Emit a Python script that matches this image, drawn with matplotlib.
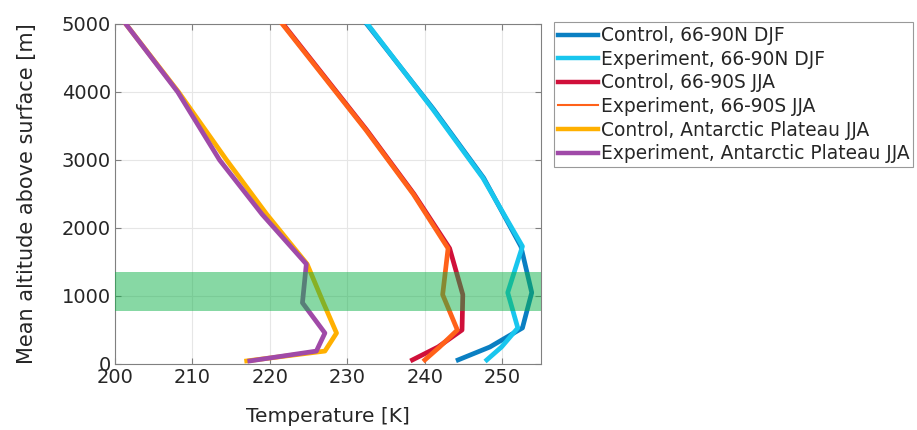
import matplotlib
matplotlib.use('Agg')
import matplotlib.pyplot as plt
from matplotlib.lines import Line2D

# altitude levels above surface [m]
alt_n = [60, 250, 530, 1050, 1730, 2735, 3750, 5000]
alt_s = [60, 250, 500, 1020, 1700, 2500, 3440, 5000]
alt_p = [45, 190, 455, 900, 1470, 2200, 3000, 4000, 5000]

# temperatures [K]
ctrl_n = [244.3, 248.4, 252.6, 253.8, 252.4, 247.6, 241.1, 232.5]
exp_n = [248.0, 249.9, 252.0, 250.7, 252.6, 247.5, 241.0, 232.6]
ctrl_s = [238.4, 241.7, 244.8, 244.9, 243.2, 238.6, 232.5, 221.7]
exp_s = [240.0, 241.9, 244.2, 242.3, 243.0, 238.5, 232.4, 221.6]
ctrl_p = [217.0, 227.1, 228.6, 226.9, 224.8, 219.6, 214.4, 208.2, 201.4]
exp_p = [217.4, 226.0, 227.1, 224.2, 224.7, 219.0, 213.5, 208.1, 201.4]

labels = ['Control, 66-90N DJF', 'Experiment, 66-90N DJF',
          'Control, 66-90S JJA', 'Experiment, 66-90S JJA',
          'Control, Antarctic Plateau JJA', 'Experiment, Antarctic Plateau JJA']
colors = ['#0a7fc2', '#19c6ee', '#d0103a', '#ff6119', '#ffb000', '#a04aa8']

band = [780, 1350]

plt.rcParams['font.family'] = 'DejaVu Sans'
fig = plt.figure(figsize=(9.17, 4.3), dpi=100)
ax = fig.add_axes([0.1254, 0.1535, 0.4646, 0.7907])

series = [(ctrl_n, alt_n), (exp_n, alt_n), (ctrl_s, alt_s),
          (exp_s, alt_s), (ctrl_p, alt_p), (exp_p, alt_p)]
for (t, z), c in zip(series, colors):
    ax.plot(t, z, color=c, lw=3.4, zorder=3)

ax.axhspan(band[0], band[1], color='#11b24a', alpha=0.5, lw=0, zorder=4)

ax.set_xlim(200, 255)
ax.set_ylim(0, 5000)
ax.set_xticks([200, 210, 220, 230, 240, 250])
ax.set_yticks([0, 1000, 2000, 3000, 4000, 5000])
ax.grid(True, color='#e6e6e6', lw=0.8)
ax.set_axisbelow(True)
ax.tick_params(direction='in', top=True, right=True, labelsize=14,
               colors='#808080', labelcolor='#262626', length=4, pad=3)
for s in ax.spines.values():
    s.set_color('#808080')
ax.set_xlabel('Temperature [K]', fontsize=14.5, color='#262626', labelpad=14)
ax.set_ylabel('Mean altitude above surface [m]', fontsize=15, color='#262626', labelpad=18)

handles = [Line2D([], [], color=c, lw=(1.5 if i == 3 else 3.2)) for i, c in enumerate(colors)]
leg = fig.legend(handles, labels, loc='upper left', bbox_to_anchor=(0.604, 0.949),
                 fontsize=13.4, frameon=True, fancybox=False, handlelength=2.15,
                 handletextpad=0.15, labelspacing=0.25, borderpad=0.22, borderaxespad=0)
leg.get_frame().set_edgecolor('#808080')
leg.get_frame().set_linewidth(0.8)
for t in leg.get_texts():
    t.set_color('#262626')

fig.savefig('out.png', dpi=100)
